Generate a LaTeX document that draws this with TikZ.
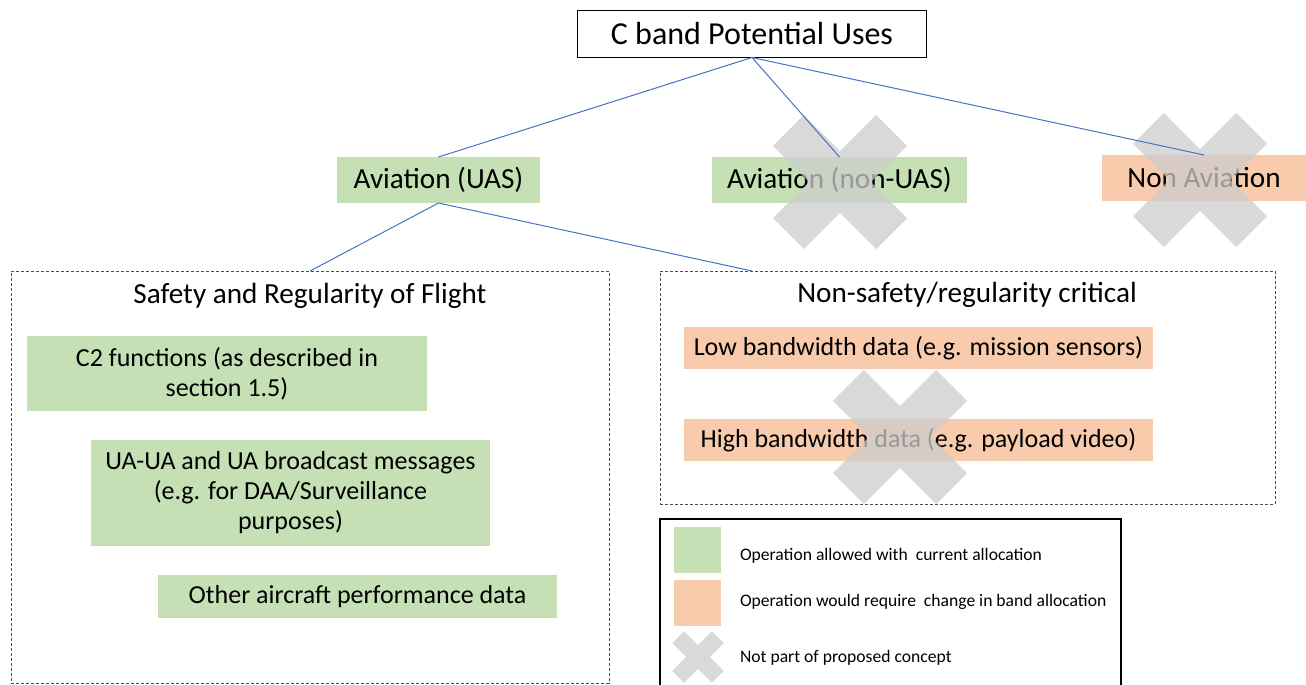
\documentclass[tikz,border=0pt]{standalone}
\usepackage{fontspec}
\setmainfont{Carlito}
\usepackage{tikz}
\usepackage{xcolor}
\usetikzlibrary{arrows.meta}

\definecolor{allowgreen}{RGB}{197,224,180}
\definecolor{changeorange}{RGB}{248,203,173}
\definecolor{linkblue}{RGB}{68,114,196}
\definecolor{crossgrey}{RGB}{204,204,204}

% grey cross: x, y, size
\newcommand{\notpart}[3]{%
  \fill[crossgrey, opacity=0.75, shift={(#1,#2)}, scale=#3, rotate=45]
    (-1,-0.3) -- (-0.3,-0.3) -- (-0.3,-1) -- (0.3,-1) -- (0.3,-0.3) -- (1,-0.3)
    -- (1,0.3) -- (0.3,0.3) -- (0.3,1) -- (-0.3,1) -- (-0.3,0.3) -- (-1,0.3) -- cycle;}

\begin{document}
\begin{tikzpicture}[x=0.5pt, y=-0.5pt,
    every node/.style={font=\fontsize{13}{15}\selectfont, inner sep=0pt, outer sep=0pt, align=center},
    bigtext/.style={font=\fontsize{14.6}{17}\selectfont},
    topbox/.style={draw=black, line width=0.6pt, fill=white, font=\fontsize{16}{19}\selectfont},
    greenbox/.style={fill=allowgreen},
    orangebox/.style={fill=changeorange},
    groupbox/.style={draw=black!70, line width=0.4pt, dash pattern=on 1.5pt off 1pt},
    link/.style={draw=linkblue, line width=0.5pt},
    legendtext/.style={font=\fontsize{8.8}{10}\selectfont, anchor=west}]
    \useasboundingbox (0,0) rectangle (1306,685);

    % top level
    \node[topbox, minimum width=174.5pt, minimum height=23.5pt] (cband) at (752,34) {C band Potential Uses};
    \node[greenbox, bigtext, minimum width=101.5pt, minimum height=23pt] (uas) at (438.5,180) {Aviation (UAS)};
    \node[greenbox, bigtext, minimum width=127.5pt, minimum height=23pt] (nonuas) at (839.5,180) {Aviation (non-UAS)};
    \node[orangebox, bigtext, minimum width=102pt, minimum height=23pt] (nonav) at (1204,178) {Non Aviation};

    % groups
    \node[groupbox, minimum width=299pt, minimum height=206pt] (safe) at (310,477) {};
    \node[bigtext] (safetitle) at (310,296) {Safety and Regularity of Flight};
    \node[groupbox, minimum width=307.5pt, minimum height=116.5pt] (nonsafe) at (967.5,387.5) {};
    \node[bigtext] (nonsafetitle) at (967,295) {Non-safety/regularity critical};
    \coordinate (nonsafein) at (752,271);

    \node[greenbox, minimum width=200pt, minimum height=37.5pt] (ctwo) at (227,373.5) {C2 functions (as described in\\section 1.5)};
    \node[greenbox, minimum width=199.5pt, minimum height=53pt] (uaua) at (290.5,493) {UA-UA and UA broadcast messages\\(e.g. for DAA/Surveillance\\purposes)};
    \node[greenbox, minimum width=199.5pt, minimum height=21.5pt] (perf) at (357.5,596.5) {Other aircraft performance data};
    \node[orangebox, minimum width=234.5pt, minimum height=21pt] (lowbw) at (918.5,348) {Low bandwidth data (e.g. mission sensors)};
    \node[orangebox, minimum width=234.5pt, minimum height=21pt] (highbw) at (918.5,440) {High bandwidth data (e.g. payload video)};

    % legend
    \draw[black, line width=1pt] (660,519) rectangle (1121,695);
    \node[greenbox, minimum width=23.5pt, minimum height=23pt] (keygreen) at (697.5,550) {};
    \node[orangebox, minimum width=23.5pt, minimum height=23pt] (keyorange) at (697.5,603) {};
    \node[legendtext] (keyallowed) at (740,556) {Operation allowed with~ current allocation};
    \node[legendtext] (keychange) at (740,602) {Operation would require~ change in band allocation};
    \node[legendtext] (keynot) at (740,658) {Not part of proposed concept};

    % crosses
    \notpart{840}{182}{73}
    \notpart{1200}{180}{73}
    \notpart{900}{437}{73}
    \notpart{698}{657}{28}

    % connectors
    \draw[link] (cband.south) -- (uas.north);
    \draw[link] (cband.south) -- (nonuas.north);
    \draw[link] (cband.south) -- (nonav.north);
    \draw[link] (uas.south) -- (safe.north);
    \draw[link] (uas.south) -- (nonsafein);
\end{tikzpicture}
\end{document}
